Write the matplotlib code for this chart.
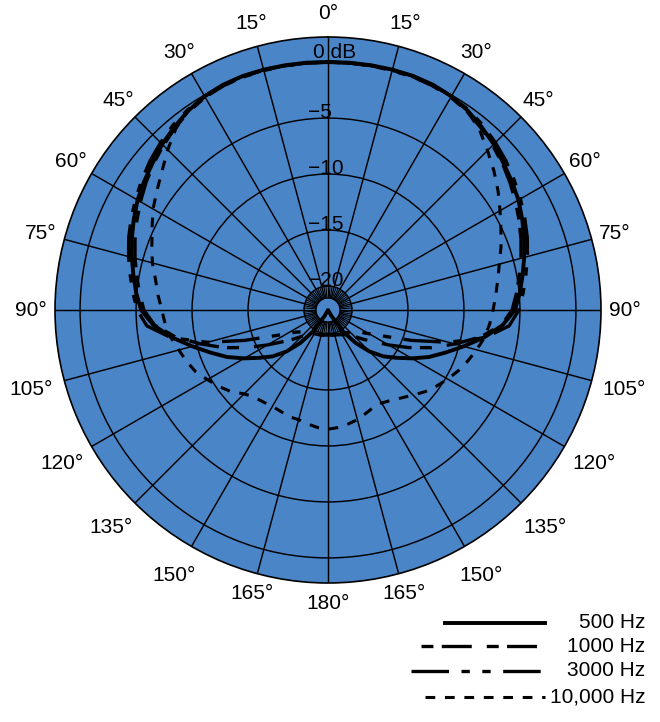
import numpy as np
import matplotlib
matplotlib.use('Agg')
import matplotlib.pyplot as plt
from matplotlib.lines import Line2D

plt.rcParams['font.family'] = ['Liberation Sans', 'DejaVu Sans']
plt.rcParams['lines.scale_dashes'] = False

# angles every 5 deg from front (0) to rear (180), clockwise = right half
angles = np.arange(0, 181, 5)

# dB at each angle
db_500 = [0, 0.03, 0.05, 0.08, 0.1, 0.05, -0.1, -0.4, -0.8, -1.2,
          -1.7, -2.1, -2.5, -3.0, -3.5, -4.0, -4.5, -4.95, -5.45, -6.5,
          -8.0, -9.6, -11.0, -12.2, -13.5, -14.7, -15.7, -16.9, -18.3, -19.8,
          -21.5, -22.14, -22.14, -22.14, -22.14, -22.14, -22.14]

db_1k = [0, 0, 0.02, 0.03, 0.03, -0.05, -0.2, -0.5, -0.9, -1.35,
         -1.8, -2.3, -2.8, -3.3, -3.8, -4.3, -4.8, -5.25, -5.7, -6.6,
         -8.3, -10.4, -12.3, -14.2, -15.9, -17.2, -18.1, -18.8, -19.2, -19.45,
         -19.6, -19.7, -19.8, -19.85, -19.9, -19.95, -20.0]

db_3k = [0, 0, 0, 0, 0, 0, -0.1, -0.3, -0.6, -1.0,
         -1.4, -1.85, -2.3, -2.75, -3.2, -3.7, -4.2, -4.65, -5.1, -5.9,
         -7.9, -11.0, -14.2, -16.6, -17.9, -18.7, -19.1, -19.3, -19.5, -19.6,
         -19.7, -19.75, -19.8, -19.85, -19.85, -19.9, -19.9]

# 10 kHz is a little different on the two sides
db_10k_right = [0, 0, 0.05, 0.08, 0.1, 0.05, -0.1, -0.45, -1.1, -2.0,
                -2.8, -3.6, -4.4, -5.1, -5.7, -6.3, -6.75, -7.1, -7.4, -7.65,
                -7.95, -8.4, -8.85, -9.3, -9.8, -10.3, -10.8, -11.4, -11.9, -12.3,
                -12.55, -12.55, -12.3, -12.0, -11.8, -11.6, -11.5]
db_10k_left = [0, 0, 0.05, 0.08, 0.1, 0.05, -0.1, -0.4, -1.0, -1.9,
               -2.8, -3.5, -4.1, -4.8, -5.4, -5.9, -6.5, -6.9, -7.3, -7.55,
               -7.9, -8.35, -8.7, -9.1, -9.7, -10.25, -10.8, -11.55, -11.95, -12.1,
               -12.2, -12.15, -12.0, -12.0, -11.8, -11.6, -11.5]

ring_db = [-20, -15, -10, -5, 0]
angle_labels = [0, 15, 30, 45, 60, 75, 90, 105, 120, 135, 150, 165, 180]
legend_names = ['500 Hz', '1000 Hz', '3000 Hz', '10,000 Hz']

RMIN, RMAX = -22.14, 2.24
PX_PER_DB = 11.2
BLUE = '#4a85c8'


def full_curve(db_r, db_l=None):
    if db_l is None:
        db_l = db_r
    th = list(angles) + [360 - a for a in angles[::-1]]
    r = list(db_r) + list(db_l[::-1])
    return np.radians(th), np.array(r)


fig = plt.figure(figsize=(6.6, 7.22), dpi=100)
W, H = 660, 722
cx, cy, rad = 328, 310, 273
ax = fig.add_axes([(cx - rad) / W, 1 - (cy + rad) / H, 2 * rad / W, 2 * rad / H], projection='polar')
ax.set_theta_zero_location('N')
ax.set_theta_direction(-1)
ax.set_rlim(RMIN, RMAX)
ax.set_facecolor(BLUE)
ax.spines['polar'].set_color('black')
ax.spines['polar'].set_linewidth(1.2)

ax.set_thetagrids(range(0, 360, 15), labels=[''] * 24)
ax.set_rgrids(ring_db, labels=[''] * len(ring_db))
ax.grid(True, color='black', lw=1.05)
ax.tick_params(length=0)

# center disc and short spokes
r_small = RMIN + 12 / PX_PER_DB
tt = np.linspace(0, 2 * np.pi, 120)
ax.fill(tt, np.full_like(tt, r_small), facecolor=BLUE, edgecolor='black', lw=1.0, zorder=2.5)
for a in range(0, 360, 5):
    if a % 15:
        ax.plot([np.radians(a)] * 2, [r_small, -20], color='black', lw=0.8, zorder=2)

styles = [
    dict(lw=2.8, ls='-'),
    dict(lw=2.4, dashes=[8.6, 6, 21.6, 10.8]),
    dict(lw=2.4, dashes=[27, 9, 6, 9, 6, 9]),
    dict(lw=2.2, dashes=[7, 7]),
]

curves = [full_curve(db_500), full_curve(db_1k), full_curve(db_3k),
          full_curve(db_10k_right, db_10k_left)]
for (th, r), st in zip(curves, styles):
    ax.plot(th, r, color='black', zorder=3, solid_joinstyle='round', **st)

# dB labels along the 0 degree spoke
ax.annotate('0 dB', xy=(0, 0), xytext=(5, 3), textcoords='offset points',
            ha='center', va='baseline', fontsize=15)
for d in ring_db[:-1][::-1]:
    ax.annotate('\u2212' + str(abs(d)), xy=(0, d), xytext=(-14.5, 0), textcoords='offset points',
                ha='left', va='baseline', fontsize=15)

# angle labels
for a in angle_labels:
    if a in (105, 120, 135, 150):
        px = 307
    elif a in (165, 180):
        px = 294
    else:
        px = 297
    rr = RMIN + px / PX_PER_DB
    for side in {a, (360 - a) % 360}:
        ax.text(np.radians(side), rr, f'{a}\u00b0', ha='center', va='center',
                fontsize=15, clip_on=False)

# legend
leg_y = [623, 646, 671, 697]
leg_x0 = [445, 421, 411, 425]
leg_x1 = 545
for name, y, x0, st in zip(legend_names, leg_y, leg_x0, styles):
    fig.add_artist(Line2D([x0 / W, leg_x1 / W], [1 - y / H, 1 - y / H],
                          transform=fig.transFigure, color='black', **st))
    fig.text(645 / W, 1 - y / H, name, ha='right', va='center', fontsize=15)

fig.savefig('out.png', dpi=100)
